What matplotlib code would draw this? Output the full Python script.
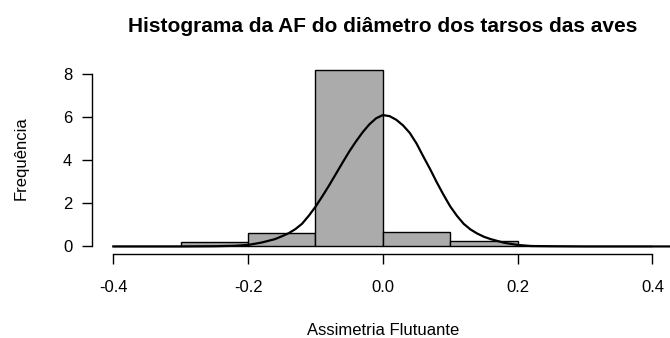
import matplotlib
matplotlib.use('agg')
import matplotlib.pyplot as plt

# limites das classes e densidades
limites = [-0.4, -0.3, -0.2, -0.1, 0.0, 0.1, 0.2, 0.3, 0.4]
densidade = [0.0, 0.19, 0.63, 8.19, 0.66, 0.26, 0.0, 0.03]

# curva de densidade
curva_x = [-0.40, -0.30, -0.25, -0.22, -0.20, -0.18, -0.16, -0.15, -0.14, -0.13,
           -0.12, -0.11, -0.10, -0.09, -0.08, -0.07, -0.06, -0.05, -0.04, -0.03,
           -0.02, -0.01, 0.00, 0.01, 0.02, 0.03, 0.04, 0.05, 0.06, 0.07,
           0.08, 0.09, 0.10, 0.11, 0.12, 0.13, 0.14, 0.15, 0.16, 0.18,
           0.20, 0.22, 0.25, 0.30, 0.40, 0.50]
curva_y = [0.0, 0.0, 0.01, 0.03, 0.07, 0.18, 0.34, 0.47, 0.61, 0.8,
           1.05, 1.42, 1.84, 2.32, 2.82, 3.35, 3.88, 4.4, 4.87, 5.3,
           5.67, 5.95, 6.1, 6.05, 5.88, 5.62, 5.27, 4.78, 4.18, 3.6,
           2.98, 2.4, 1.86, 1.42, 1.05, 0.79, 0.6, 0.45, 0.34, 0.17,
           0.07, 0.02, 0.01, 0.0, 0.0, 0.0]

x_ticks = [-0.4, -0.2, 0.0, 0.2, 0.4]
x_labels = ['-0.4', '-0.2', '0.0', '0.2', '0.4']
y_ticks = [0, 2, 4, 6, 8]

plt.rcParams['font.family'] = ['Liberation Sans', 'DejaVu Sans']

fig = plt.figure(figsize=(6.7, 3.38), dpi=100)
ax = fig.add_axes([0.1369, 0.25, 0.869, 0.5636])

ax.bar(limites[:-1], densidade, width=0.1, align='edge',
       color='#ABABAB', edgecolor='black', linewidth=1.0)
ax.plot(curva_x, curva_y, color='black', linewidth=1.6, solid_joinstyle='round')

ax.set_xlim(-0.432, 0.432)
ax.set_ylim(-0.3276, 8.5176)

for lado in ['top', 'right']:
    ax.spines[lado].set_visible(False)
ax.spines['bottom'].set_bounds(-0.4, 0.4)
ax.spines['left'].set_bounds(0, 8)
ax.spines['bottom'].set_linewidth(1.0)
ax.spines['left'].set_linewidth(1.0)

ax.set_xticks(x_ticks)
ax.set_xticklabels(x_labels)
ax.set_yticks(y_ticks)
ax.tick_params(axis='x', length=7, width=1.0, pad=12, labelsize=12)
ax.tick_params(axis='y', length=7, width=1.0, pad=7, labelsize=12)

ax.set_xlabel('Assimetria Flutuante', fontsize=12, labelpad=20)
ax.set_ylabel('Frequência', fontsize=12, labelpad=25)
fig.text(383 / 670, 1 - 27 / 338, 'Histograma da AF do diâmetro dos tarsos das aves',
         ha='center', va='center', fontsize=15, fontweight='bold')

plt.savefig('out.png', dpi=100)
plt.close()
